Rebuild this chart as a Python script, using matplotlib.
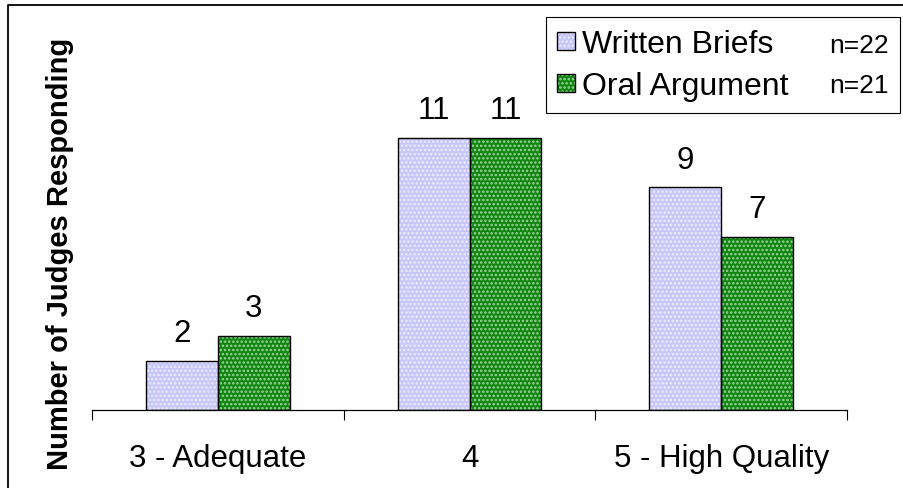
import numpy as np
import matplotlib
matplotlib.use("Agg")
import matplotlib.pyplot as plt
from matplotlib.patches import Patch, Rectangle
from matplotlib.lines import Line2D
from matplotlib.legend_handler import HandlerPatch, HandlerTuple
from matplotlib.ticker import FixedLocator, NullFormatter, FixedFormatter

# ---- data ----
categories = ["3 - Adequate", "4", "5 - High Quality"]
written_briefs = [2, 11, 9]
oral_argument = [3, 11, 7]
series_labels = ["Written Briefs", "Oral Argument"]
series_counts = ["n=22", "n=21"]

plt.rcParams["font.family"] = ["Liberation Sans", "DejaVu Sans"]
plt.rcParams["hatch.linewidth"] = 1.2

W, H = 904, 489
fig = plt.figure(figsize=(W / 100, H / 100), dpi=100)
fig.patch.set_facecolor("white")
ax = fig.add_axes([92 / W, 1 - 411 / H, 755 / W, 297 / H])

x = np.arange(len(categories))
bw = 0.286
fills = [dict(face="#C6C6FA", dots="#EDEDFF"), dict(face="#128412", dots="#9AD89A")]
series = [written_briefs, oral_argument]
offsets = [-bw / 2, bw / 2]
handles = []
for vals, off, f in zip(series, offsets, fills):
    ax.bar(x + off, vals, bw, color=f["face"], edgecolor=f["dots"], hatch="....",
           linewidth=0, zorder=2)
    outline = ax.bar(x + off, vals, bw, fill=False, edgecolor="black", linewidth=1.0, zorder=3)
    ax.bar_label(outline, labels=[str(v) for v in vals], padding=9, fontsize=22.5)
    handles.append((Patch(facecolor=f["face"], edgecolor=f["dots"], hatch="....", linewidth=0),
                    Patch(facecolor="none", edgecolor="black", linewidth=1.0)))

blank = Patch(facecolor="none", edgecolor="none", linewidth=0)


def square(legend, orig_handle, xdescent, ydescent, width, height, fontsize):
    s = 0.56 * fontsize
    return Rectangle((-xdescent, 0.36 * fontsize - s / 2), s, s)


hmap = {Patch: HandlerPatch(patch_func=square), tuple: HandlerTuple(ndivide=1, pad=0)}
leg = ax.legend(handles + [blank, blank], series_labels + series_counts, ncols=2,
                handler_map=hmap, fontsize=23, handlelength=0.56, handleheight=0.87,
                handletextpad=0.22, columnspacing=0.5, labelspacing=0.35, borderpad=0.35,
                loc="upper right", bbox_to_anchor=(900 / W, 1 - 18 / H),
                bbox_transform=fig.transFigure, borderaxespad=0, fancybox=False,
                framealpha=1, edgecolor="black")
leg.get_frame().set_linewidth(0.8)
for t in leg.get_texts()[2:]:
    t.set_fontsize(19)

ax.set_xlim(-0.5, 2.5)
ax.set_ylim(0, 12)
ax.xaxis.set_major_locator(FixedLocator([-0.5, 0.5, 1.5, 2.5]))
ax.xaxis.set_major_formatter(NullFormatter())
ax.xaxis.set_minor_locator(FixedLocator(x))
ax.xaxis.set_minor_formatter(FixedFormatter(categories))
ax.tick_params(axis="x", which="major", length=7.5, width=0.8, direction="out", color="black")
ax.tick_params(axis="x", which="minor", length=0, pad=24, labelsize=22.5)
ax.set_yticks([])
for s in ["top", "right", "left"]:
    ax.spines[s].set_visible(False)
ax.spines["bottom"].set_linewidth(0.9)
ax.set_ylabel("Number of Judges Responding", fontsize=21, fontweight="bold")
ax.yaxis.set_label_coords(-0.0238, 0.5286)

fig.add_artist(Line2D([7.5 / W, 7.5 / W, 1.0], [0.0, 1 - 6 / H, 1 - 6 / H],
                      transform=fig.transFigure, color="black", lw=1.3))

fig.savefig("out.png", dpi=100)
